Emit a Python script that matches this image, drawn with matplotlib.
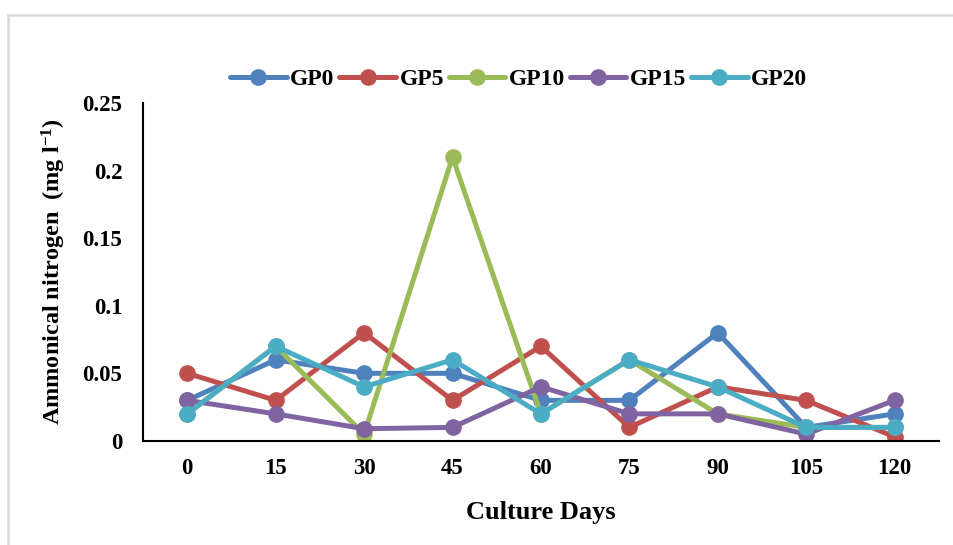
import matplotlib
matplotlib.use('agg')
import matplotlib.pyplot as plt
from matplotlib.patches import Rectangle

days = ['0', '15', '30', '45', '60', '75', '90', '105', '120']
gp0 = [0.03, 0.06, 0.05, 0.05, 0.03, 0.03, 0.08, 0.01, 0.02]
gp5 = [0.05, 0.03, 0.08, 0.03, 0.07, 0.01, 0.04, 0.03, 0.003]
gp10 = [0.02, 0.07, 0.005, 0.21, 0.02, 0.06, 0.02, 0.01, 0.01]
gp15 = [0.03, 0.02, 0.009, 0.01, 0.04, 0.02, 0.02, 0.005, 0.03]
gp20 = [0.02, 0.07, 0.04, 0.06, 0.02, 0.06, 0.04, 0.01, 0.01]

plt.rcParams['font.family'] = ['Liberation Serif', 'DejaVu Serif']
plt.rcParams['font.weight'] = 'bold'
plt.rcParams['mathtext.fontset'] = 'custom'
plt.rcParams['mathtext.rm'] = 'Liberation Serif:bold'
plt.rcParams['mathtext.bf'] = 'Liberation Serif:bold'
plt.rcParams['mathtext.default'] = 'bf'

fig = plt.figure(figsize=(9.54, 5.45), dpi=100)
ax = fig.add_axes([0.150, 0.191, 0.834, 0.620])

# light grey frame around the chart area
fig.patches.append(Rectangle((8 / 954, -0.1), 1.2, 1 - 15 / 545 + 0.1,
                             transform=fig.transFigure, fill=False,
                             edgecolor='#d9d9d9', lw=1.8))

x = range(len(days))
series = [('GP0', gp0, '#4f81bd'), ('GP5', gp5, '#c0504d'),
          ('GP10', gp10, '#9bbb59'), ('GP15', gp15, '#8064a2'),
          ('GP20', gp20, '#4bacc6')]
for name, vals, col in series:
    ax.plot(x, vals, color=col, lw=3.6, marker='o', markersize=11,
            label=name, solid_capstyle='round')

ax.set_xlim(-0.5, len(days) - 0.5)
ax.set_ylim(0, 0.25)
ax.set_xticks(list(x))
ax.set_xticklabels(days)
ax.set_yticks([0, 0.05, 0.1, 0.15, 0.2, 0.25])
ax.set_yticklabels(['0', '0.05', '0.1', '0.15', '0.2', '0.25'])
ax.tick_params(length=0, labelsize=16.5)
ax.tick_params(axis='x', pad=12)
ax.tick_params(axis='y', pad=15)
for lab in ax.get_xticklabels() + ax.get_yticklabels():
    lab.set_fontweight('bold')

for s in ['top', 'right']:
    ax.spines[s].set_visible(False)
for s in ['left', 'bottom']:
    ax.spines[s].set_linewidth(1.5)
    ax.spines[s].set_color('black')

ax.set_xlabel('Culture Days', fontsize=19, fontweight='bold', labelpad=16)
ax.set_ylabel('Ammonical nitrogen  (mg l$^{-1}$)', fontsize=17.5,
              fontweight='bold', labelpad=10)

ax.legend(loc='lower center', bbox_to_anchor=(0.472, 1.0), ncol=5,
          frameon=False, prop={'size': 17, 'weight': 'bold'},
          handlelength=2.4, handletextpad=0.15, columnspacing=0.2,
          borderaxespad=0.15)

fig.savefig('out.png', dpi=100)
